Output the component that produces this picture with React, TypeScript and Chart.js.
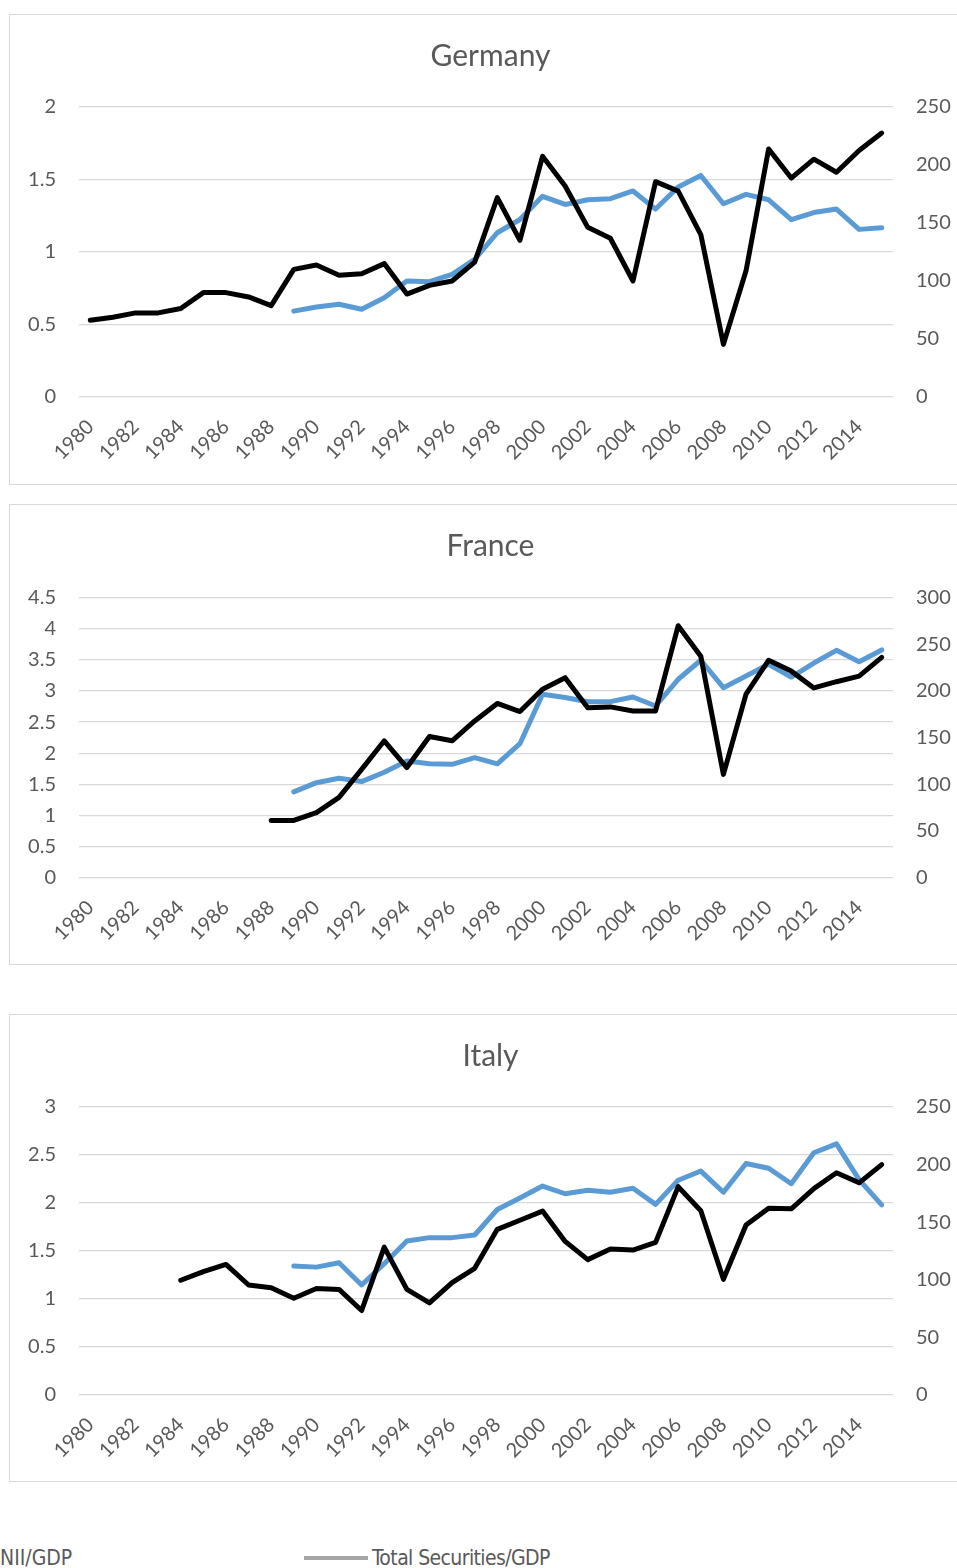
import React, { useEffect, useRef } from 'react';
import { Chart, registerables } from 'chart.js';

Chart.register(...registerables);

const years = [
  '1980', '1981', '1982', '1983', '1984', '1985', '1986', '1987', '1988', '1989',
  '1990', '1991', '1992', '1993', '1994', '1995', '1996', '1997', '1998', '1999',
  '2000', '2001', '2002', '2003', '2004', '2005', '2006', '2007', '2008', '2009',
  '2010', '2011', '2012', '2013', '2014', '2015',
];

const germanyNii = [
  0.53, 0.55, 0.58, 0.58, 0.61, 0.72, 0.72, 0.69, 0.63, 0.88,
  0.91, 0.84, 0.85, 0.92, 0.71, 0.77, 0.8, 0.93, 1.375, 1.08,
  1.66, 1.455, 1.17, 1.095, 0.8, 1.485, 1.42, 1.12, 0.363, 0.87,
  1.71, 1.51, 1.64, 1.55, 1.7, 1.82,
];
const germanySec = [
  null, null, null, null, null, null, null, null, null, 74,
  77.6, 80, 75.6, 85.6, 100, 99.4, 105.7, 118.7, 141.6, 153,
  173, 166, 170, 171, 177.6, 162, 181, 191, 166.6, 174.7,
  170, 153, 159, 162, 144.5, 146,
];

const franceNii = [
  null, null, null, null, null, null, null, null, 0.92, 0.92,
  1.045, 1.29, 1.74, 2.2, 1.77, 2.27, 2.2, 2.52, 2.8, 2.67,
  3.03, 3.215, 2.73, 2.745, 2.68, 2.68, 4.05, 3.56, 1.66, 2.95,
  3.495, 3.32, 3.05, 3.15, 3.24, 3.54,
];
const franceSec = [
  null, null, null, null, null, null, null, null, null, 92,
  101.8, 106.5, 103, 113, 125, 122, 121.5, 128.6, 122, 143.6,
  196.5, 193, 188.6, 188.6, 193.6, 184, 212.6, 233, 203.6, 216,
  228.6, 215, 230, 243.6, 231.4, 244,
];

const italyNii = [
  null, null, null, null, 1.195, 1.285, 1.36, 1.146, 1.118, 1.007,
  1.11, 1.1, 0.88, 1.54, 1.1, 0.96, 1.17, 1.32, 1.726, 1.82,
  1.916, 1.6, 1.41, 1.52, 1.51, 1.59, 2.17, 1.92, 1.205, 1.77,
  1.945, 1.94, 2.15, 2.315, 2.21, 2.4,
];
const italySec = [
  null, null, null, null, null, null, null, null, null, 112,
  111, 114.8, 95.5, 114, 133.7, 136.6, 136.6, 138.9, 161, 171,
  181.4, 174.7, 177.7, 176, 179.4, 165.5, 186.4, 194.4, 176, 201,
  196.8, 183.4, 210.3, 218, 187, 165,
];

const seriesNames = ['NII/GDP', 'Total Securities/GDP'];

const FONT = 'Lato, "Open Sans", sans-serif';
const TEXT = '#595959';
const GRID = '#d9d9d9';

type PanelProps = {
  title: string;
  nii: (number | null)[];
  sec: (number | null)[];
  leftMax: number;
  rightMax: number;
  top: number;
  height: number;
  plotTop: number;
  axisHeight: number;
};

function Panel(props: PanelProps) {
  const ref = useRef<HTMLCanvasElement | null>(null);
  const { title, nii, sec, leftMax, rightMax, top, height, plotTop, axisHeight } = props;
  const cw = 947;
  const ch = height - 2;

  useEffect(() => {
    if (!ref.current) return;
    const titleLine = 30 * 1.2;
    const padTop = 41 - titleLine / 2;
    const padBottom = plotTop - padTop - titleLine;
    const chart = new Chart(ref.current, {
      type: 'line',
      data: {
        labels: years,
        datasets: [
          {
            label: seriesNames[0],
            data: nii,
            borderColor: '#000000',
            backgroundColor: '#000000',
            borderWidth: 5,
            pointRadius: 0,
            borderJoinStyle: 'round',
            borderCapStyle: 'round',
            tension: 0,
            yAxisID: 'y',
          },
          {
            label: seriesNames[1],
            data: sec,
            borderColor: '#5b9bd5',
            backgroundColor: '#5b9bd5',
            borderWidth: 5,
            pointRadius: 0,
            borderJoinStyle: 'round',
            borderCapStyle: 'round',
            tension: 0,
            yAxisID: 'y1',
          },
        ],
      },
      options: {
        responsive: false,
        animation: false,
        devicePixelRatio: 1,
        layout: { padding: { left: 14, right: 0, top: 0, bottom: 0 } },
        plugins: {
          legend: { display: false },
          tooltip: { enabled: false },
          title: {
            display: true,
            text: title,
            color: TEXT,
            font: { family: FONT, size: 30, weight: 'normal', lineHeight: 1.2 },
            padding: { top: padTop, bottom: padBottom },
          },
        },
        scales: {
          x: {
            offset: true,
            grid: { display: false, drawTicks: false },
            border: { display: false },
            ticks: {
              autoSkip: false,
              minRotation: 45,
              maxRotation: 45,
              padding: 18,
              color: TEXT,
              font: { family: FONT, size: 20 },
              callback: (_v: any, i: number) => (i % 2 === 0 ? years[i] : ''),
            },
            afterFit: (s: any) => {
              s.height = axisHeight;
            },
          },
          y: {
            position: 'left',
            min: 0,
            max: leftMax,
            grid: { color: GRID, lineWidth: 1.3, drawTicks: false },
            border: { display: false },
            ticks: {
              stepSize: 0.5,
              padding: 23,
              color: TEXT,
              font: { family: FONT, size: 20 },
              callback: (v: any) => String(v),
            },
            afterFit: (s: any) => {
              s.width = 55;
            },
          },
          y1: {
            position: 'right',
            min: 0,
            max: rightMax,
            grid: { display: false, drawTicks: false },
            border: { display: false },
            ticks: {
              stepSize: 50,
              padding: 23,
              color: TEXT,
              font: { family: FONT, size: 20 },
              callback: (v: any) => String(v),
            },
            afterFit: (s: any) => {
              s.width = 64;
            },
          },
        },
      },
    });
    return () => chart.destroy();
  }, []);

  return (
    <div
      style={{
        position: 'absolute',
        left: 9,
        top,
        width: 1000,
        height,
        boxSizing: 'border-box',
        border: `1px solid ${GRID}`,
        background: '#fff',
      }}
    >
      <canvas
        ref={ref}
        width={cw}
        height={ch}
        style={{ position: 'absolute', left: 0, top: 0, width: cw, height: ch }}
      />
    </div>
  );
}

export default function App() {
  return (
    <div
      style={{
        position: 'absolute',
        left: 0,
        top: 0,
        width: 957,
        height: 1568,
        overflow: 'hidden',
        background: '#fff',
      }}
    >
      <Panel title="Germany" nii={germanyNii} sec={germanySec} leftMax={2} rightMax={250}
        top={14} height={471} plotTop={92} axisHeight={87} />
      <Panel title="France" nii={franceNii} sec={franceSec} leftMax={4.5} rightMax={300}
        top={504} height={461} plotTop={92.7} axisHeight={86.3} />
      <Panel title="Italy" nii={italyNii} sec={italySec} leftMax={3} rightMax={250}
        top={1014} height={468} plotTop={92} axisHeight={86} />
      <div
        style={{
          position: 'absolute',
          left: 0,
          top: 1546,
          fontFamily: '"DejaVu Sans Condensed", "Liberation Sans Narrow", sans-serif',
          fontStretch: 'condensed',
          fontSize: 21,
          color: TEXT,
          whiteSpace: 'nowrap',
        }}
      >
        {seriesNames[0]}
      </div>
      <div
        style={{
          position: 'absolute',
          left: 304,
          top: 1556,
          width: 64,
          height: 4,
          background: '#a5a5a5',
        }}
      />
      <div
        style={{
          position: 'absolute',
          left: 372,
          top: 1546,
          fontFamily: '"DejaVu Sans Condensed", "Liberation Sans Narrow", sans-serif',
          fontStretch: 'condensed',
          fontSize: 21,
          letterSpacing: -0.6,
          color: TEXT,
          whiteSpace: 'nowrap',
        }}
      >
        {seriesNames[1]}
      </div>
    </div>
  );
}
